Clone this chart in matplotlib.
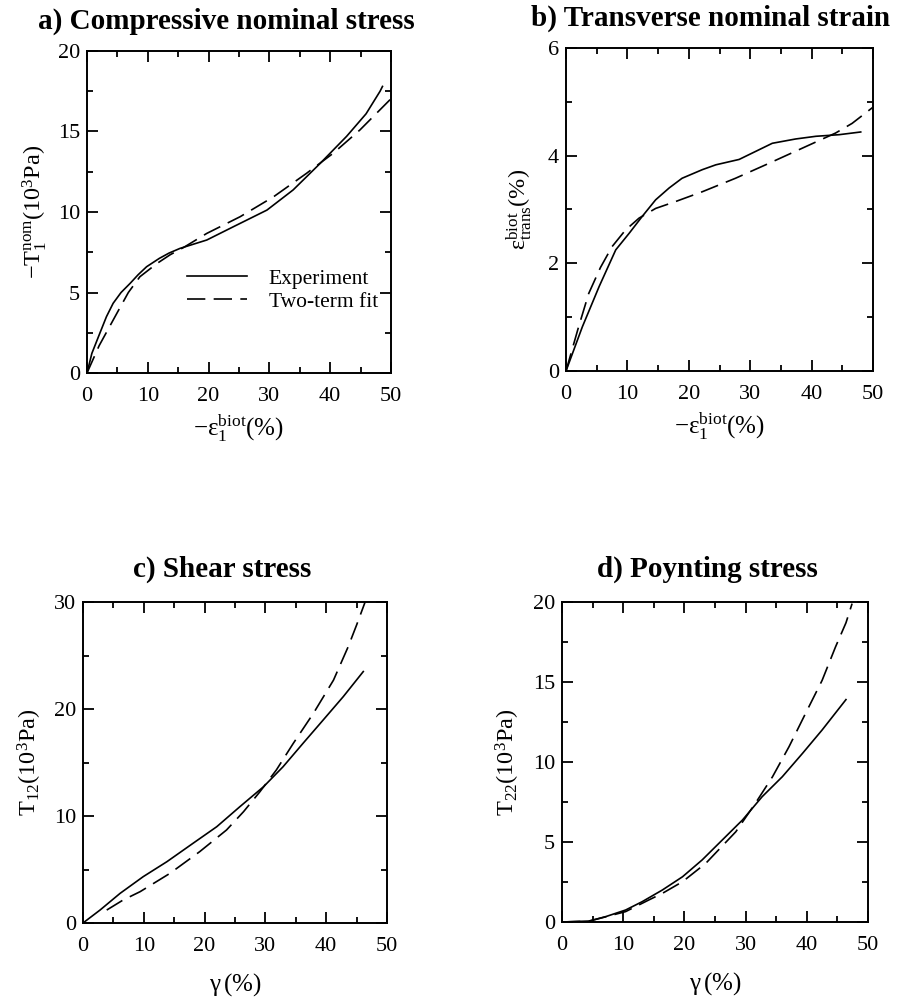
import matplotlib
matplotlib.use("Agg")
import matplotlib.pyplot as plt
from matplotlib.ticker import MultipleLocator

plt.rcParams['font.family'] = ['Liberation Serif', 'DejaVu Serif']
plt.rcParams['mathtext.fontset'] = 'custom'
plt.rcParams['mathtext.rm'] = 'Liberation Serif'
plt.rcParams['mathtext.it'] = 'Liberation Serif:italic'
plt.rcParams['mathtext.bf'] = 'Liberation Serif:bold'

# ---- data ----
a_exp_x = [0, 0.8, 2.1, 3.2, 4.3, 5.6, 7.1, 8.4, 9.8, 11.9, 13.5, 15.3, 17.5, 19.7, 24.1, 29.6, 33.9, 38.3, 42.7, 45.9, 48.2, 48.6]
a_exp_y = [0, 1.22, 2.46, 3.5, 4.33, 5.0, 5.57, 6.1, 6.6, 7.12, 7.45, 7.74, 8.0, 8.26, 9.09, 10.12, 11.37, 13.0, 14.7, 16.1, 17.5, 17.8]
a_fit_x = [0, 2.0, 4.9, 6.8, 8.7, 11.5, 13.7, 15.9, 19.7, 25.2, 30.7, 36.1, 40.5, 44.9, 49.8, 50]
a_fit_y = [0, 1.7, 3.7, 5.0, 5.98, 6.8, 7.35, 7.8, 8.67, 9.71, 10.95, 12.4, 13.65, 15.1, 16.96, 17.1]

b_exp_x = [0, 2.66, 5.4, 8.1, 10.3, 12.4, 14.6, 16.8, 18.9, 22.2, 24.4, 28.2, 30.9, 33.6, 37.4, 40.7, 44.5, 48.0]
b_exp_y = [0, 0.82, 1.57, 2.25, 2.56, 2.87, 3.18, 3.40, 3.58, 3.74, 3.83, 3.93, 4.08, 4.23, 4.31, 4.36, 4.39, 4.44]
b_fit_x = [0, 2.0, 3.7, 5.6, 7.5, 9.7, 11.9, 14.6, 17.9, 22.2, 27.6, 33.1, 38.5, 43.9, 46.6, 50]
b_fit_y = [0, 0.8, 1.44, 1.92, 2.31, 2.62, 2.84, 3.02, 3.15, 3.33, 3.58, 3.86, 4.14, 4.42, 4.60, 4.9]

c_exp_x = [0, 2.8, 6.1, 9.9, 13.8, 18.1, 22.0, 25.8, 29.7, 32.9, 36.2, 39.5, 42.8, 46.1]
c_exp_y = [0, 1.21, 2.77, 4.33, 5.73, 7.45, 9.0, 10.87, 12.74, 14.6, 16.8, 18.97, 21.15, 23.5]
c_fit_x = [3.9, 6.6, 9.4, 14.3, 19.2, 23.6, 26.4, 29.1, 31.8, 34.6, 37.9, 41.2, 43.6, 45.0, 46.4]
c_fit_y = [1.21, 2.15, 2.93, 4.64, 6.67, 8.69, 10.4, 12.27, 14.3, 16.8, 19.6, 22.7, 25.8, 27.85, 30.0]

d_exp_x = [0, 4.4, 7.1, 10.4, 13.1, 16.4, 19.7, 22.9, 26.2, 29.5, 32.7, 36.0, 39.3, 42.5, 46.4]
d_exp_y = [0, 0.06, 0.33, 0.75, 1.27, 2.0, 2.83, 3.88, 5.13, 6.38, 7.83, 9.08, 10.54, 12.0, 13.9]
d_fit_x = [0, 4.4, 10.4, 14.2, 16.4, 19.7, 23.5, 28.4, 31.6, 34.4, 37.1, 39.8, 42.5, 44.7, 46.4, 47.4]
d_fit_y = [0, 0.05, 0.65, 1.38, 1.79, 2.52, 3.67, 5.64, 7.42, 9.08, 10.96, 13.04, 15.1, 17.2, 18.7, 19.9]

titles = ['a) Compressive nominal stress', 'b) Transverse nominal strain',
          'c) Shear stress', 'd) Poynting stress']
xlabels = [r'$-\mathrm{ε}_1^{\mathrm{biot}}(\%)$', r'$-\mathrm{ε}_1^{\mathrm{biot}}(\%)$',
           r'$\mathrm{γ}\,(\%)$', r'$\mathrm{γ}\,(\%)$']
ylabels = [r'$-\mathrm{T}_1^{\mathrm{nom}}(10^3\mathrm{Pa})$',
           r'$\mathrm{ε}^{\mathrm{biot}}_{\mathrm{trans}}(\%)$',
           r'$\mathrm{T}_{12}(10^3\mathrm{Pa})$',
           r'$\mathrm{T}_{22}(10^3\mathrm{Pa})$']
ylims = [20, 6, 30, 20]
ymajor = [5, 2, 10, 5]
legend_labels = ['Experiment', 'Two-term fit']

fig = plt.figure(figsize=(8.98, 10.05), dpi=100)
W, H = 898.0, 1005.0
boxes = [(87, 51, 391, 373), (566, 48, 873, 371), (83, 602, 387, 923), (562, 602, 868, 922)]
data = [(a_exp_x, a_exp_y, a_fit_x, a_fit_y), (b_exp_x, b_exp_y, b_fit_x, b_fit_y),
        (c_exp_x, c_exp_y, c_fit_x, c_fit_y), (d_exp_x, d_exp_y, d_fit_x, d_fit_y)]
title_pads = [16, 16, 18, 18]
title_x = [0.46, 0.472, 0.459, 0.475]
xlabel_pads = [5, 5, 11, 11]
ylabel_pads = [6, 10, 7, 7.5]

for i, (l, t, r, b) in enumerate(boxes):
    ax = fig.add_axes([l / W, 1 - b / H, (r - l) / W, (b - t) / H])
    ex, ey, fx, fy = data[i]
    ax.plot(ex, ey, color='black', lw=1.2, label=legend_labels[0])
    ax.plot(fx, fy, color='black', lw=1.2, dashes=(11, 5), label=legend_labels[1])
    ax.set_xlim(0, 50)
    ax.set_ylim(0, ylims[i])
    ax.xaxis.set_major_locator(MultipleLocator(10))
    ax.xaxis.set_minor_locator(MultipleLocator(5))
    ax.yaxis.set_major_locator(MultipleLocator(ymajor[i]))
    ax.yaxis.set_minor_locator(MultipleLocator(ymajor[i] / 2))
    ax.tick_params(which='both', direction='in', top=True, right=True, labelsize=16,
                   width=1.3, colors='black')
    ax.tick_params(which='major', length=8)
    ax.tick_params(which='minor', length=4)
    ax.tick_params(axis='x', which='major', pad=10)
    ax.tick_params(axis='y', which='major', pad=5)
    for s in ax.spines.values():
        s.set_linewidth(1.4)
    ax.set_title(titles[i], fontsize=21, fontweight='bold', pad=title_pads[i], x=title_x[i])
    ax.set_xlabel(xlabels[i], fontsize=18, labelpad=xlabel_pads[i])
    ax.set_ylabel(ylabels[i], fontsize=17.5, labelpad=ylabel_pads[i])
    if i == 0:
        ax.legend(loc='lower left', bbox_to_anchor=(0.329, 0.19), frameon=False,
                  fontsize=15.5, handlelength=2.8, handletextpad=1.0, labelspacing=0.15,
                  borderpad=0, borderaxespad=0)

fig.savefig('out.png', dpi=100)
